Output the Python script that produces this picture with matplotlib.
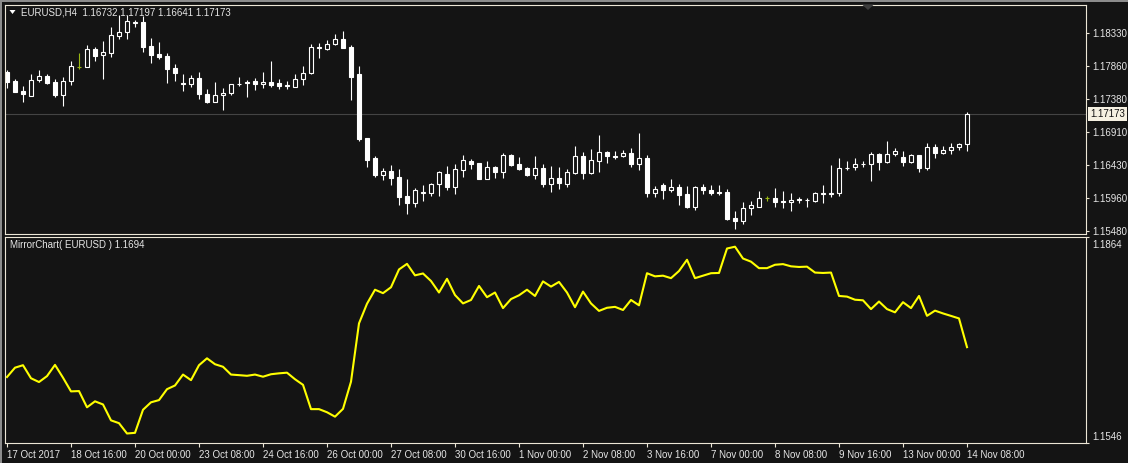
import matplotlib
matplotlib.use('Agg')
import matplotlib.pyplot as plt
import numpy as np
from matplotlib.patches import Rectangle, Polygon
import matplotlib.transforms as mtransforms

W, H, DPI = 1128, 463, 100
BG = '#141414'
FRAME = '#ece6d6'
TXT = '#e6e6e6'
FS = 7

opens = [1.17777, 1.17643, 1.17499, 1.17431, 1.17652, 1.17715, 1.17628, 1.17446, 1.17638, 1.17849,
         1.17849, 1.18099, 1.18012, 1.18051, 1.18286, 1.18343, 1.18483, 1.18487, 1.18142, 1.18031,
         1.18003, 1.17830, 1.17609, 1.17595, 1.17686, 1.17451, 1.17345, 1.17436, 1.17475, 1.17599,
         1.17628, 1.17643, 1.17595, 1.17628, 1.17614, 1.17580, 1.17561, 1.17667, 1.17753, 1.18118,
         1.18108, 1.18171, 1.18247, 1.18132, 1.17743, 1.16822, 1.16534, 1.16294, 1.16347, 1.16260,
         1.15987, 1.15891, 1.16035, 1.16035, 1.16155, 1.16303, 1.16121, 1.16366, 1.16495, 1.16462,
         1.16236, 1.16404, 1.16337, 1.16577, 1.16447, 1.16390, 1.16289, 1.16390, 1.16161, 1.16241,
         1.16161, 1.16318, 1.16563, 1.16323, 1.16495, 1.16615, 1.16563, 1.16558, 1.16606, 1.16452,
         1.16534, 1.16035, 1.16140, 1.16073, 1.16111, 1.16015, 1.15833, 1.16111, 1.16073, 1.16039,
         1.16039, 1.15665, 1.15627, 1.15809, 1.15833, 1.15957, 1.15957, 1.15915, 1.15895, 1.15929,
         1.15924, 1.15919, 1.16015, 1.16011, 1.16025, 1.16385, 1.16404, 1.16443, 1.16443, 1.16587,
         1.16471, 1.16587, 1.16543, 1.16481, 1.16572, 1.16395, 1.16692, 1.16611, 1.16654, 1.16687,
         1.16732]
highs = [1.17801, 1.17671, 1.17571, 1.17743, 1.17801, 1.17743, 1.17671, 1.17705, 1.17931, 1.18051,
         1.18161, 1.18132, 1.18223, 1.18425, 1.18593, 1.18593, 1.18521, 1.18579, 1.18267, 1.18199,
         1.18041, 1.17887, 1.17743, 1.17724, 1.17772, 1.17523, 1.17628, 1.17547, 1.17604, 1.17700,
         1.17657, 1.17681, 1.17772, 1.17931, 1.17676, 1.17643, 1.17743, 1.17863, 1.18175, 1.18185,
         1.18233, 1.18324, 1.18363, 1.18161, 1.17859, 1.16822, 1.16567, 1.16385, 1.16433, 1.16375,
         1.16231, 1.16102, 1.16145, 1.16169, 1.16342, 1.16419, 1.16447, 1.16577, 1.16519, 1.16462,
         1.16491, 1.16423, 1.16606, 1.16591, 1.16548, 1.16399, 1.16563, 1.16447, 1.16419, 1.16404,
         1.16375, 1.16707, 1.16615, 1.16663, 1.16865, 1.16639, 1.16637, 1.16649, 1.16679, 1.16894,
         1.16577, 1.16131, 1.16169, 1.16231, 1.16159, 1.16131, 1.16131, 1.16159, 1.16140, 1.16140,
         1.16083, 1.15771, 1.15895, 1.15915, 1.16065, 1.15991, 1.16102, 1.16059, 1.16031, 1.15977,
         1.15953, 1.16039, 1.16145, 1.16438, 1.16534, 1.16486, 1.16534, 1.16486, 1.16625, 1.16601,
         1.16779, 1.16679, 1.16637, 1.16591, 1.16582, 1.16745, 1.16731, 1.16707, 1.16745, 1.16755,
         1.17197]
lows = [1.17537, 1.17489, 1.17345, 1.17422, 1.17633, 1.17599, 1.17417, 1.17283, 1.17590, 1.17815,
        1.17839, 1.17935, 1.17671, 1.17993, 1.18252, 1.18252, 1.18415, 1.18065, 1.17897, 1.17955,
        1.17609, 1.17647, 1.17503, 1.17551, 1.17388, 1.17321, 1.17335, 1.17230, 1.17446, 1.17571,
        1.17417, 1.17508, 1.17537, 1.17551, 1.17523, 1.17523, 1.17551, 1.17590, 1.17743, 1.17979,
        1.18089, 1.18161, 1.18113, 1.17369, 1.16783, 1.16399, 1.16265, 1.16217, 1.16145, 1.15857,
        1.15732, 1.15828, 1.15919, 1.15987, 1.15991, 1.16073, 1.16015, 1.16260, 1.16375, 1.16231,
        1.16227, 1.16246, 1.16246, 1.16423, 1.16366, 1.16274, 1.16231, 1.16116, 1.16039, 1.16087,
        1.16116, 1.16303, 1.16231, 1.16303, 1.16332, 1.16462, 1.16519, 1.16548, 1.16404, 1.16361,
        1.15973, 1.15977, 1.15943, 1.16039, 1.15857, 1.15819, 1.15785, 1.16015, 1.16001, 1.16001,
        1.15641, 1.15511, 1.15583, 1.15713, 1.15823, 1.15915, 1.15833, 1.15819, 1.15773, 1.15881,
        1.15833, 1.15895, 1.15881, 1.15977, 1.15991, 1.16366, 1.16361, 1.16399, 1.16207, 1.16361,
        1.16462, 1.16567, 1.16423, 1.16462, 1.16333, 1.16366, 1.16539, 1.16596, 1.16596, 1.16654,
        1.16641]
closes = [1.17633, 1.17489, 1.17451, 1.17652, 1.17710, 1.17619, 1.17446, 1.17643, 1.17854, 1.17849,
          1.18099, 1.18007, 1.18055, 1.18300, 1.18343, 1.18502, 1.18492, 1.18137, 1.18022, 1.17988,
          1.17820, 1.17763, 1.17595, 1.17681, 1.17451, 1.17345, 1.17436, 1.17475, 1.17595, 1.17604,
          1.17614, 1.17595, 1.17628, 1.17590, 1.17576, 1.17566, 1.17667, 1.17753, 1.18127, 1.18127,
          1.18175, 1.18243, 1.18123, 1.17705, 1.16807, 1.16505, 1.16289, 1.16342, 1.16251, 1.15977,
          1.15891, 1.16068, 1.16039, 1.16155, 1.16332, 1.16121, 1.16371, 1.16500, 1.16447, 1.16231,
          1.16404, 1.16332, 1.16572, 1.16433, 1.16375, 1.16289, 1.16385, 1.16161, 1.16241, 1.16169,
          1.16332, 1.16558, 1.16318, 1.16500, 1.16615, 1.16567, 1.16553, 1.16601, 1.16447, 1.16529,
          1.16035, 1.16083, 1.16073, 1.16111, 1.16001, 1.15828, 1.16111, 1.16073, 1.16035, 1.16031,
          1.15655, 1.15627, 1.15809, 1.15857, 1.15957, 1.15957, 1.15905, 1.15895, 1.15929, 1.15939,
          1.15934, 1.16025, 1.16031, 1.16025, 1.16385, 1.16395, 1.16443, 1.16452, 1.16587, 1.16471,
          1.16587, 1.16637, 1.16481, 1.16572, 1.16385, 1.16691, 1.16611, 1.16654, 1.16692, 1.16731,
          1.17173]
mirror = [1.16480, 1.16624, 1.16662, 1.16461, 1.16403, 1.16494, 1.16667, 1.16470, 1.16259, 1.16264,
          1.16014, 1.16106, 1.16058, 1.15813, 1.15770, 1.15611, 1.15621, 1.15976, 1.16091, 1.16125,
          1.16293, 1.16350, 1.16518, 1.16432, 1.16662, 1.16768, 1.16677, 1.16638, 1.16518, 1.16509,
          1.16499, 1.16518, 1.16485, 1.16523, 1.16537, 1.16547, 1.16446, 1.16360, 1.15986, 1.15986,
          1.15938, 1.15870, 1.15990, 1.16408, 1.17306, 1.17608, 1.17824, 1.17771, 1.17862, 1.18136,
          1.18222, 1.18045, 1.18074, 1.17958, 1.17781, 1.17992, 1.17742, 1.17613, 1.17666, 1.17882,
          1.17709, 1.17781, 1.17541, 1.17680, 1.17738, 1.17824, 1.17728, 1.17952, 1.17872, 1.17944,
          1.17781, 1.17555, 1.17795, 1.17613, 1.17498, 1.17546, 1.17560, 1.17512, 1.17666, 1.17584,
          1.18078, 1.18030, 1.18040, 1.18002, 1.18112, 1.18285, 1.18002, 1.18040, 1.18078, 1.18082,
          1.18458, 1.18486, 1.18304, 1.18256, 1.18156, 1.18156, 1.18208, 1.18218, 1.18184, 1.18174,
          1.18179, 1.18088, 1.18082, 1.18088, 1.17728, 1.17718, 1.17670, 1.17661, 1.17526, 1.17642,
          1.17526, 1.17476, 1.17632, 1.17541, 1.17728, 1.17422, 1.17502, 1.17459, 1.17421, 1.17382,
          1.16940]

date_labels = ['17 Oct 2017', '18 Oct 16:00', '20 Oct 00:00', '23 Oct 08:00', '24 Oct 16:00',
               '26 Oct 00:00', '27 Oct 08:00', '30 Oct 16:00', '1 Nov 00:00', '2 Nov 08:00',
               '3 Nov 16:00', '7 Nov 00:00', '8 Nov 08:00', '9 Nov 16:00', '13 Nov 00:00',
               '14 Nov 08:00']
price_ticks = [1.18330, 1.17860, 1.17380, 1.16910, 1.16430, 1.15960, 1.15480]
price_tick_labels = ['1.18330', '1.17860', '1.17380', '1.16910', '1.16430', '1.15960', '1.15480']
last_price = 1.17173
mirror_range = [1.1546, 1.1864]

plt.rcParams['font.family'] = ['Liberation Sans', 'DejaVu Sans']

fig = plt.figure(figsize=(W / DPI, H / DPI), dpi=DPI, facecolor=BG)


def ax_rect(l, t, r, b):
    return [l / W, 1 - b / H, (r - l) / W, (b - t) / H]


ax1 = fig.add_axes(ax_rect(5, 4.5, 1086, 234))
ax2 = fig.add_axes(ax_rect(5, 236.7, 1086, 443.3))

n = len(closes)
x = np.arange(n)
o = np.array(opens); h = np.array(highs); l = np.array(lows); c = np.array(closes)

for ax in (ax1, ax2):
    ax.set_facecolor(BG)
    for s in ax.spines.values():
        s.set_color(FRAME)
        s.set_linewidth(0.8)
    ax.set_xlim(-0.25, 134.875)

# --- candles ---
doji = o == c
bull = (c > o)
bear = (c < o)
wick_col = np.where(doji, '#9ab814', '#ffffff')
ax1.vlines(x, l, h, colors=wick_col, linewidth=0.8, zorder=1)
bw = 0.5
ax1.bar(x[bull], (c - o)[bull], bottom=o[bull], width=bw, facecolor=BG,
        edgecolor='#ffffff', linewidth=0.8, zorder=2)
ax1.bar(x[bear], (o - c)[bear], bottom=c[bear], width=bw, facecolor='#ffffff',
        edgecolor='#ffffff', linewidth=0.8, zorder=2)
ax1.hlines(c[doji], x[doji] - bw / 2, x[doji] + bw / 2, colors='#9ab814', linewidth=0.8, zorder=2)

ax1.axhline(last_price, color='#444444', linewidth=0.8, zorder=0)
ax1.set_ylim(1.15439, 1.18745)
ax1.yaxis.tick_right()
ax1.set_yticks(price_ticks)
ax1.set_yticklabels(price_tick_labels)
ax1.tick_params(axis='y', colors=FRAME, length=2.5, width=0.8, pad=2, labelsize=FS,
                labelcolor=TXT)
ax1.set_xticks([])

ax1.text(1.0 + 4 / 1081, last_price, '1.17173', transform=mtransforms.blended_transform_factory(
    ax1.transAxes, ax1.transData), ha='left', va='center', fontsize=FS, color='#101010',
    bbox=dict(boxstyle='square,pad=0.2', fc='#f5f0e1', ec='none'), zorder=5, clip_on=False)

fig.text(21 / W, 1 - 12.3 / H, 'EURUSD,H4  1.16732 1.17197 1.16641 1.17173', ha='left',
         va='center', fontsize=FS, color=TXT)
fig.patches.append(Polygon([[9.5 / W, 1 - 10 / H], [15.5 / W, 1 - 10 / H], [12.5 / W, 1 - 14 / H]],
                           closed=True, transform=fig.transFigure, fc='#ffffff', ec='none'))
fig.patches.append(Polygon([[862 / W, 1 - 4.5 / H], [874 / W, 1 - 4.5 / H], [868 / W, 1 - 10 / H]],
                           closed=True, transform=fig.transFigure, fc='#3c3c3c', ec='none'))

# --- mirror line ---
ax2.plot(x, mirror, color='#ffff00', linewidth=1.5, zorder=3)
ax2.set_ylim(mirror_range[0], mirror_range[1])
ax2.yaxis.tick_right()
ax2.set_yticks(mirror_range)
ax2.set_yticklabels(['', ''])
ax2.tick_params(axis='y', colors=FRAME, length=2.5, width=0.8)
ax2.set_xticks(x[::8])
ax2.set_xticklabels(date_labels, ha='left')
ax2.tick_params(axis='x', colors=FRAME, length=3, width=0.8, pad=1.5, labelsize=FS,
                labelcolor=TXT)
fig.text(1092 / W, 1 - 245 / H, '1.1864', ha='left', va='center', fontsize=FS, color=TXT)
fig.text(1092 / W, 1 - 436.5 / H, '1.1546', ha='left', va='center', fontsize=FS, color=TXT)
fig.text(10 / W, 1 - 245.5 / H, 'MirrorChart( EURUSD ) 1.1694', ha='left', va='center',
         fontsize=FS, color=TXT)

# window border strips
fig.patches.append(Rectangle((0, 1 - 2 / H), 1, 2 / H, transform=fig.transFigure,
                             fc='#8c8c8c', ec='none'))
fig.patches.append(Rectangle((0, 0), 2 / W, 1, transform=fig.transFigure,
                             fc='#8c8c8c', ec='none'))

fig.savefig('out.png', dpi=DPI, facecolor=BG)
